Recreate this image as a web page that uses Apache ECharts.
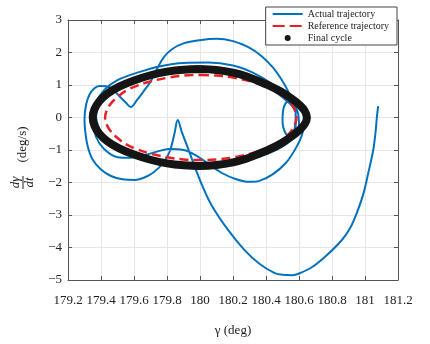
<!DOCTYPE html>
<html>
<head>
<meta charset="utf-8">
<script src="https://cdn.jsdelivr.net/npm/echarts@6/dist/echarts.min.js"></script>
<style>
  html, body { margin: 0; padding: 0; background: #fff; }
  #chart { width: 430px; height: 344px; }
</style>
</head>
<body>
<div id="chart"></div>
<script>
// Phase portrait: angle gamma (deg) against its rate (deg/s)

const xTicks = [179.2, 179.4, 179.6, 179.8, 180, 180.2, 180.4, 180.6, 180.8, 181, 181.2];
const yTicks = [-5, -4, -3, -2, -1, 0, 1, 2, 3];

// Simulated trajectory, starting near 181.08 deg and settling onto the cycle
const actualTrajectory = [
  [181.08, 0.35], [181.075, 0.15], [181.07, -0.1], [181.065, -0.4], [181.05, -1.0],
  [181.02, -1.7], [180.99, -2.35], [180.95, -2.94], [180.91, -3.4], [180.86, -3.77],
  [180.77, -4.23], [180.68, -4.6], [180.6, -4.8], [180.56, -4.85], [180.5, -4.84],
  [180.45, -4.78], [180.36, -4.5], [180.27, -4.08], [180.17, -3.46], [180.07, -2.7],
  [180.01, -2.05], [179.96, -1.4], [179.92, -0.85], [179.89, -0.45], [179.865, -0.08],
  [179.845, -0.5], [179.82, -1.0], [179.79, -1.3], [179.75, -1.55], [179.69, -1.78],
  [179.61, -1.92], [179.53, -1.9], [179.46, -1.8], [179.4, -1.6], [179.35, -1.3],
  [179.32, -0.9], [179.305, -0.45], [179.30, -0.05], [179.31, 0.4], [179.33, 0.7],
  [179.36, 0.9], [179.39, 0.97], [179.43, 0.96], [179.47, 0.87], [179.51, 0.66],
  [179.55, 0.46], [179.58, 0.32], [179.62, 0.55], [179.66, 0.82], [179.70, 1.1],
  [179.74, 1.5], [179.78, 1.85], [179.83, 2.1], [179.9, 2.28], [180.0, 2.38],
  [180.1, 2.42], [180.2, 2.35], [180.29, 2.17], [180.37, 1.9], [180.44, 1.55],
  [180.49, 1.2], [180.53, 0.85], [180.56, 0.5], [180.58, 0.14], [180.575, -0.3],
  [180.55, -0.55], [180.52, -0.5], [180.5, -0.1], [180.51, 0.35], [180.55, 0.55],
  [180.6, 0.45], [180.63, 0.0], [180.62, -0.5], [180.58, -0.95], [180.52, -1.4],
  [180.44, -1.75], [180.36, -1.95], [180.3, -1.98], [180.22, -1.9], [180.13, -1.7],
  [180.05, -1.42], [179.97, -1.15], [179.9, -1.0], [179.81, -0.97], [179.74, -1.05],
  [179.67, -1.15], [179.58, -1.24], [179.5, -1.22], [179.42, -0.98], [179.37, -0.6],
  [179.35, -0.1], [179.37, 0.45], [179.42, 0.85], [179.5, 1.15], [179.62, 1.38],
  [179.76, 1.58], [179.9, 1.68], [180.05, 1.69], [180.2, 1.6], [180.32, 1.38],
  [180.43, 1.05], [180.52, 0.65], [180.59, 0.2], [180.6, -0.25], [180.56, -0.65],
  [180.47, -0.98], [180.33, -1.25], [180.15, -1.42], [179.98, -1.47], [179.8, -1.42],
  [179.64, -1.22], [179.5, -0.95], [179.4, -0.55], [179.37, -0.05], [179.39, 0.45],
  [179.45, 0.8], [179.55, 1.05], [179.7, 1.3], [179.88, 1.43], [180.05, 1.43],
  [180.22, 1.3], [180.38, 1.02], [180.5, 0.62], [180.58, 0.15], [180.58, -0.3],
  [180.52, -0.7], [180.4, -1.05], [180.22, -1.3], [180.02, -1.42], [179.82, -1.38],
  [179.65, -1.18], [179.5, -0.88], [179.4, -0.45], [179.37, 0.0]
];

// Desired closed orbit (traced from the top, clockwise)
const referenceTrajectory = [
  [180.0, 1.31], [180.1, 1.29], [180.2, 1.23], [180.3, 1.12], [180.38, 0.99],
  [180.45, 0.83], [180.51, 0.64], [180.55, 0.44], [180.575, 0.22], [180.585, 0],
  [180.575, -0.22], [180.55, -0.44], [180.51, -0.64], [180.45, -0.83], [180.38, -0.99],
  [180.3, -1.12], [180.2, -1.23], [180.1, -1.29], [180.0, -1.31], [179.9, -1.29],
  [179.8, -1.22], [179.7, -1.11], [179.62, -0.98], [179.55, -0.82], [179.5, -0.63],
  [179.46, -0.43], [179.435, -0.22], [179.425, 0], [179.435, 0.22], [179.46, 0.43],
  [179.5, 0.63], [179.55, 0.82], [179.62, 0.98], [179.7, 1.11], [179.8, 1.22],
  [179.9, 1.29], [180.0, 1.31]
];

// Steady-state cycle reached at the end of the run (traced from the top, clockwise)
const finalCycle = [
  [180.0, 1.49], [180.1, 1.46], [180.2, 1.38], [180.28, 1.27], [180.35, 1.13],
  [180.42, 0.98], [180.49, 0.8], [180.55, 0.6], [180.6, 0.4], [180.635, 0.2],
  [180.648, 0], [180.635, -0.2], [180.6, -0.4], [180.55, -0.6], [180.49, -0.8],
  [180.42, -0.98], [180.35, -1.13], [180.28, -1.27], [180.2, -1.38], [180.1, -1.46],
  [180.0, -1.49], [179.9, -1.47], [179.8, -1.41], [179.7, -1.3], [179.6, -1.14],
  [179.51, -0.95], [179.44, -0.74], [179.39, -0.5], [179.36, -0.25], [179.35, 0],
  [179.36, 0.25], [179.39, 0.5], [179.44, 0.74], [179.51, 0.95], [179.6, 1.14],
  [179.7, 1.3], [179.8, 1.41], [179.9, 1.47], [180.0, 1.49]
];

const seriesNames = ['Actual trajectory', 'Reference trajectory', 'Final cycle'];

const FONT = '"Liberation Serif", "Times New Roman", serif';
const AXIS_COLOR = '#555';
const GRID_COLOR = '#e6e6e6';
const minus = v => String(v).replace('-', '\u2212');

const chart = echarts.init(document.getElementById('chart'), null, { renderer: 'canvas' });

const xMin = xTicks[0], xMax = xTicks[xTicks.length - 1];
const yMin = yTicks[0], yMax = yTicks[yTicks.length - 1];

const frameAxis = {
  axisLine: { show: true, onZero: false, lineStyle: { color: AXIS_COLOR, width: 1 } },
  axisTick: { show: true, inside: true, length: 4, lineStyle: { color: AXIS_COLOR } }
};

// line-only legend marks (no centre dot)
const hiddenDot = { opacity: 0, borderWidth: 0 };

chart.setOption({
  backgroundColor: '#fff',
  animation: false,
  grid: { left: 68, right: 32, top: 20, bottom: 64 },
  legend: {
    orient: 'vertical',
    right: 33,
    top: 7,
    align: 'left',
    backgroundColor: '#fff',
    borderColor: '#444',
    borderWidth: 1,
    borderRadius: 0,
    padding: [2, 8, 2, 6],
    itemGap: 2,
    itemWidth: 30,
    itemHeight: 6,
    textStyle: { fontFamily: FONT, fontSize: 10, color: '#222' },
    data: [
      { name: seriesNames[0], itemStyle: hiddenDot },
      { name: seriesNames[1], itemStyle: hiddenDot, lineStyle: { type: [12, 5] } },
      { name: seriesNames[2], icon: 'circle' }
    ]
  },
  xAxis: [
    Object.assign({
      type: 'value', position: 'bottom', min: xMin, max: xMax, interval: 0.2,
      axisLabel: { margin: 14, fontFamily: FONT, fontSize: 13, color: '#222', formatter: minus },
      splitLine: { show: true, lineStyle: { color: GRID_COLOR, width: 1 } },
      name: '\u03b3 (deg)', nameLocation: 'middle', nameGap: 44,
      nameTextStyle: { fontFamily: FONT, fontSize: 13, color: '#222' }
    }, frameAxis),
    Object.assign({
      type: 'value', position: 'top', min: xMin, max: xMax, interval: 0.2,
      axisLabel: { show: false }, splitLine: { show: false }
    }, frameAxis)
  ],
  yAxis: [
    Object.assign({
      type: 'value', position: 'left', min: yMin, max: yMax, interval: 1,
      axisLabel: { margin: 6, fontFamily: FONT, fontSize: 13, color: '#222', formatter: minus },
      splitLine: { show: true, lineStyle: { color: GRID_COLOR, width: 1 } }
    }, frameAxis),
    Object.assign({
      type: 'value', position: 'right', min: yMin, max: yMax, interval: 1,
      axisLabel: { show: false }, splitLine: { show: false }
    }, frameAxis)
  ],
  graphic: [{
    type: 'group', x: 23, y: 158, rotation: Math.PI / 2,
    children: [
      { type: 'text', x: -24.5, y: -7,
        style: { text: 'd\u03b3', font: 'italic 13px ' + FONT, fill: '#222', align: 'center', verticalAlign: 'middle' } },
      { type: 'line', shape: { x1: -31, y1: 0, x2: -18, y2: 0 },
        style: { stroke: '#222', lineWidth: 1 } },
      { type: 'text', x: -24.5, y: 7,
        style: { text: 'dt', font: 'italic 13px ' + FONT, fill: '#222', align: 'center', verticalAlign: 'middle' } },
      { type: 'text', x: 13.5, y: 0,
        style: { text: '(deg/s)', font: '13px ' + FONT, fill: '#222', align: 'center', verticalAlign: 'middle' } }
    ]
  }],
  series: [
    {
      name: seriesNames[0], type: 'line', data: actualTrajectory,
      symbol: 'none', smooth: 0.35, clip: true,
      itemStyle: { color: '#0072BD' },
      lineStyle: { color: '#0072BD', width: 2 }, z: 2
    },
    {
      name: seriesNames[1], type: 'line', data: referenceTrajectory,
      symbol: 'none', smooth: 0.4,
      itemStyle: { color: '#e8202a' },
      lineStyle: { color: '#e8202a', width: 2.5, type: [9, 5] }, z: 3
    },
    {
      name: seriesNames[2], type: 'line', data: finalCycle,
      symbol: 'none', smooth: 0.4,
      itemStyle: { color: '#151515' },
      lineStyle: { color: '#151515', width: 8 }, z: 4
    }
  ]
});
</script>
</body>
</html>
